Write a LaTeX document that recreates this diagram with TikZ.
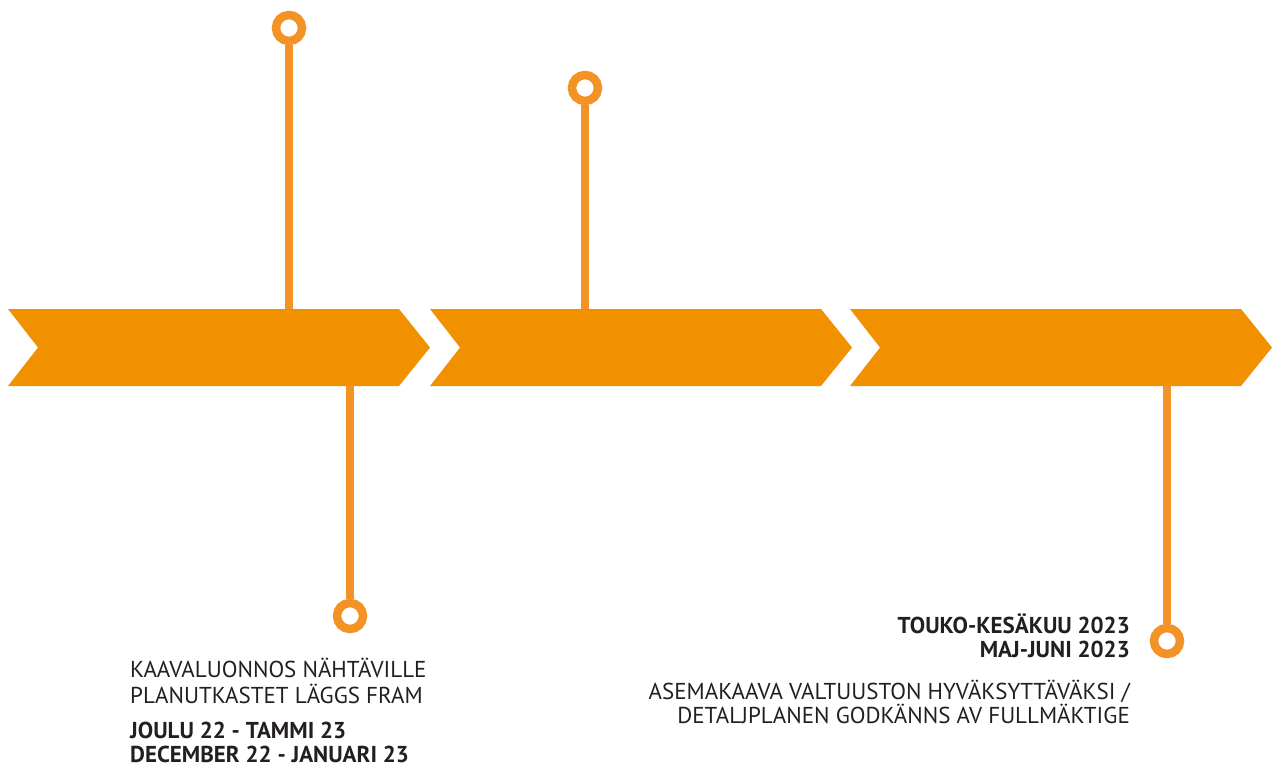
\documentclass[tikz,border=0pt]{standalone}
\usepackage{fontspec}
\setmainfont{PT Sans}
\usetikzlibrary{positioning}
\definecolor{chev}{HTML}{F29100}
\definecolor{ringc}{HTML}{F39325}
\definecolor{txt}{HTML}{231F20}

\begin{document}
\begin{tikzpicture}[x=1pt,y=-1pt,
   ring/.style={circle, draw=ringc, line width=8.5pt, minimum size=26pt, inner sep=0pt},
   stem/.style={draw=ringc, line width=8pt},
   lbl/.style={text=txt, inner sep=0pt, anchor=base west, font=\fontsize{23}{27}\selectfont},
   lblb/.style={lbl, font=\fontsize{23}{27}\selectfont\bfseries}]
   \useasboundingbox (0,0) rectangle (1274,774);
   \foreach \x in {8,430,850}
      \fill[chev] (\x,309) -- ++(391,0) -- ++(31,38.5) -- ++(-31,38.5) -- ++(-391,0) -- ++(30,-38.5) -- cycle;
   \coordinate (c1) at (289,309);
   \coordinate (c2) at (585,309);
   \coordinate (c3) at (350,386);
   \coordinate (c4) at (1167,386);
   \node (r1) at (289,28) [ring] {};
   \node (r2) at (585,88) [ring] {};
   \node (r3) at (350,616) [ring] {};
   \node (r4) at (1167,641) [ring] {};
   \draw[stem] (r1) -- (c1);
   \draw[stem] (r2) -- (c2);
   \draw[stem] (c3) -- (r3);
   \draw[stem] (c4) -- (r4);
   \node (t1) at (130,677) [lbl] {KAAVALUONNOS NÄHTÄVILLE};
   \node (t2) at (130,703) [lbl] {PLANUTKASTET LÄGGS FRAM};
   \node (t3) at (130,738) [lblb] {JOULU 22 - TAMMI 23};
   \node (t4) at (130,762) [lblb] {DECEMBER 22 - JANUARI 23};
   \node (t5) at (1130,633) [lblb, anchor=base east] {TOUKO-KESÄKUU 2023};
   \node (t6) at (1130,657) [lblb, anchor=base east] {MAJ-JUNI 2023};
   \node (t7) at (1130,699) [lbl, anchor=base east] {ASEMAKAAVA VALTUUSTON HYVÄKSYTTÄVÄKSI /};
   \node (t8) at (1130,723) [lbl, anchor=base east] {DETALJPLANEN GODKÄNNS AV FULLMÄKTIGE};
\end{tikzpicture}
\end{document}
